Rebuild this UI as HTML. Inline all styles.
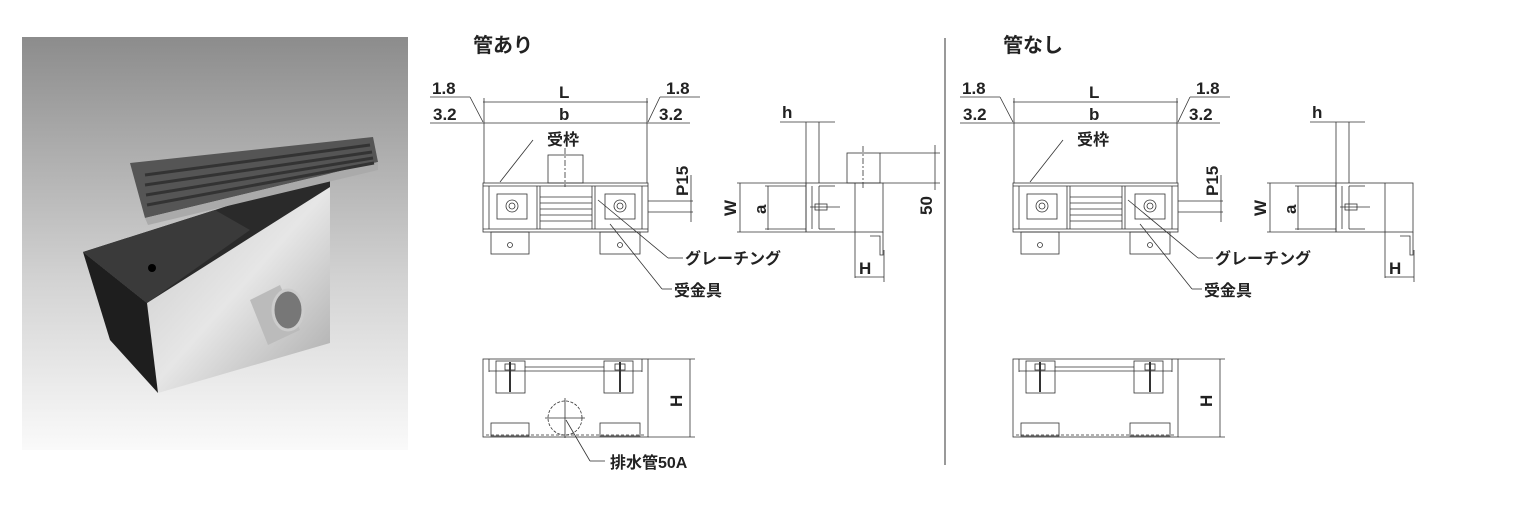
<!DOCTYPE html>
<html><head><meta charset="utf-8"><style>
html,body{margin:0;padding:0;background:#fff;}
svg{display:block}
text{font-family:"Liberation Sans","Noto Sans CJK JP",sans-serif;fill:#222;}
.t{font-size:17px;font-weight:bold}
.jp{font-size:16px;font-weight:bold}
</style></head><body>
<svg width="1516" height="520" viewBox="0 0 1516 520" xmlns="http://www.w3.org/2000/svg">
<defs>
<linearGradient id="bg" x1="0" y1="0" x2="0" y2="1">
<stop offset="0" stop-color="#8c8c8c"/><stop offset="0.6" stop-color="#d4d4d4"/><stop offset="1" stop-color="#fafafa"/></linearGradient>
<linearGradient id="sil" x1="0" y1="0" x2="1" y2="1">
<stop offset="0" stop-color="#c8c8c8"/><stop offset="0.5" stop-color="#e6e6e6"/><stop offset="1" stop-color="#a8a8a8"/></linearGradient>
<g id="draw" fill="none" stroke="#333" stroke-width="0.8">
 <!-- top dims -->
 <line x1="483" y1="102" x2="648" y2="102"/>
 <line x1="483" y1="123" x2="648" y2="123"/>
 <line x1="430" y1="97" x2="470" y2="97"/><line x1="470" y1="97" x2="483" y2="122"/>
 <line x1="430" y1="123" x2="483" y2="123"/>
 <line x1="660" y1="97" x2="700" y2="97"/><line x1="660" y1="97" x2="648" y2="122"/>
 <line x1="648" y1="123" x2="690" y2="123"/>
 <line x1="484" y1="98" x2="484" y2="183"/><line x1="647" y1="98" x2="647" y2="183"/>
 <!-- grating -->
 <rect x="483" y="183" width="165" height="49"/>
 <line x1="483" y1="186" x2="648" y2="186"/><line x1="483" y1="229" x2="648" y2="229"/>
 <line x1="489" y1="186" x2="489" y2="229"/><line x1="642" y1="186" x2="642" y2="229"/>
 <line x1="537" y1="186" x2="537" y2="229"/><line x1="540" y1="186" x2="540" y2="229"/>
 <line x1="592" y1="186" x2="592" y2="229"/><line x1="595" y1="186" x2="595" y2="229"/>
 <line x1="540" y1="197" x2="592" y2="197"/><line x1="540" y1="203" x2="592" y2="203"/><line x1="540" y1="209" x2="592" y2="209"/><line x1="540" y1="215" x2="592" y2="215"/><line x1="540" y1="221" x2="592" y2="221"/>
 <rect x="497" y="194" width="30" height="25"/><rect x="605" y="194" width="30" height="25"/>
 <circle cx="512" cy="206" r="6"/><circle cx="620" cy="206" r="6"/>
 <circle cx="512" cy="206" r="3"/><circle cx="620" cy="206" r="3"/>
 <!-- brackets -->
 <rect x="491" y="232" width="38" height="22"/><rect x="600" y="232" width="40" height="22"/>
 <circle cx="510" cy="245" r="2.5"/><circle cx="620" cy="245" r="2.5"/>
 <!-- leaders -->
 <line x1="533" y1="140" x2="500" y2="182"/>
 <line x1="598" y1="200" x2="668" y2="258"/><line x1="668" y1="258" x2="683" y2="258"/>
 <line x1="610" y1="224" x2="662" y2="289"/><line x1="662" y1="289" x2="672" y2="289"/>
 <!-- P15 -->
 <line x1="648" y1="201" x2="693" y2="201"/><line x1="648" y1="212" x2="693" y2="212"/>
 <line x1="691" y1="175" x2="691" y2="222"/>
 <!-- side view -->
 <line x1="780" y1="122" x2="835" y2="122"/>
 <line x1="806" y1="122" x2="806" y2="232"/><line x1="819" y1="122" x2="819" y2="183"/>
 <line x1="737" y1="183" x2="806" y2="183"/><line x1="737" y1="232" x2="806" y2="232"/>
 <line x1="740" y1="183" x2="740" y2="232"/>
 <line x1="768" y1="186" x2="768" y2="230"/>
 <line x1="765" y1="186" x2="806" y2="186"/><line x1="765" y1="229" x2="806" y2="229"/>
 <rect x="806" y="183" width="77" height="49"/>
 <line x1="812" y1="186" x2="812" y2="229"/><line x1="819" y1="186" x2="819" y2="229"/>
 <line x1="819" y1="186" x2="835" y2="186"/><line x1="819" y1="229" x2="835" y2="229"/>
 <line x1="855" y1="183" x2="855" y2="278"/>
 <path d="M883 232 V255 H880 V236 H870"/>
 <rect x="815" y="204" width="12" height="6"/><line x1="810" y1="207" x2="840" y2="207"/>
 <line x1="855" y1="277" x2="884" y2="277"/><line x1="884" y1="250" x2="884" y2="282"/>
</g>
</defs>
<!-- photo -->
<rect x="22" y="37" width="386" height="413" fill="url(#bg)"/>
<polygon points="147,303 330,187 330,343 158,393" fill="url(#sil)"/>
<polygon points="83,252 147,303 158,393 110,340" fill="#1e1e1e"/>
<polygon points="83,252 215,210 330,172 330,187 147,303" fill="#2a2a2a"/>
<polygon points="83,252 215,210 250,230 147,303" fill="#3a3a3a"/>
<circle cx="152" cy="268" r="4" fill="#000"/>
<polygon points="130,163 373,137 378,162 145,218" fill="#555"/>
<polygon points="145,218 378,162 378,170 148,225" fill="#aaa"/>
<g stroke="#333" stroke-width="3">
<line x1="145" y1="175" x2="370" y2="145"/><line x1="145" y1="185" x2="372" y2="152"/><line x1="146" y1="195" x2="373" y2="158"/><line x1="147" y1="205" x2="374" y2="163"/></g>
<path d="M250 300 L280 285 L300 330 L268 345 Z" fill="#bbb"/>
<ellipse cx="288" cy="310" rx="15" ry="20" fill="#777" stroke="#ccc" stroke-width="3"/>

<use href="#draw"/>
<!-- left-only elements -->
<g fill="none" stroke="#333" stroke-width="0.8">
 <rect x="548" y="155" width="35" height="28"/>
 <line x1="565" y1="148" x2="565" y2="187" stroke-dasharray="6 2 2 2"/>
 <rect x="847" y="153" width="33" height="30"/>
 <line x1="863" y1="146" x2="863" y2="190" stroke-dasharray="6 2 2 2"/>
 <line x1="880" y1="153" x2="940" y2="153"/><line x1="883" y1="183" x2="940" y2="183"/>
 <line x1="935" y1="145" x2="935" y2="190"/>
</g>
<!-- bottom view -->
<g id="bot" fill="none" stroke="#333" stroke-width="0.8">
 <rect x="483" y="359" width="165" height="78"/>
 <line x1="489" y1="359" x2="489" y2="372"/><line x1="642" y1="359" x2="642" y2="372"/>
 <rect x="496" y="361" width="29" height="32"/><rect x="604" y="361" width="29" height="32"/>
 <line x1="489" y1="371" x2="642" y2="371"/><line x1="525" y1="367" x2="604" y2="367"/>
 <line x1="510" y1="362" x2="510" y2="392" stroke-width="2"/><line x1="620" y1="362" x2="620" y2="392" stroke-width="2"/>
 <rect x="505" y="364" width="10" height="6"/><rect x="615" y="364" width="10" height="6"/>
 <line x1="486" y1="435" x2="645" y2="435" stroke-dasharray="3 2"/>
 <rect x="491" y="423" width="38" height="13"/><rect x="600" y="423" width="40" height="13"/>
 <line x1="648" y1="359" x2="695" y2="359"/><line x1="648" y1="437" x2="695" y2="437"/>
 <line x1="690" y1="359" x2="690" y2="437"/>
</g>
<use href="#draw" transform="translate(530 0)"/>
<use href="#bot" transform="translate(530 0)"/>
<g fill="none" stroke="#333" stroke-width="0.8">
 <circle cx="565" cy="418" r="17" stroke-dasharray="3 1.5"/>
 <line x1="545" y1="418" x2="585" y2="418"/><line x1="565" y1="398" x2="565" y2="438"/>
 <line x1="566" y1="420" x2="590" y2="461"/><line x1="590" y1="461" x2="605" y2="461"/>
</g>
<line x1="945" y1="38" x2="945" y2="465" stroke="#333" stroke-width="1"/>

<g id="txt">
<text x="473" y="52" style="font-size:20px;font-weight:bold">管あり</text>
<text x="432" y="94" class="t">1.8</text><text x="433" y="120" class="t">3.2</text>
<text x="559" y="98" class="t">L</text><text x="559" y="120" class="t">b</text>
<text x="666" y="94" class="t">1.8</text><text x="659" y="120" class="t">3.2</text>
<text x="547" y="145" class="jp">受枠</text>
<text x="0" y="0" class="t" transform="translate(688,196) rotate(-90)">P15</text>
<text x="685" y="264" class="jp">グレーチング</text>
<text x="674" y="296" class="jp">受金具</text>
<text x="782" y="118" class="t">h</text>
<text x="0" y="0" class="t" transform="translate(736,216) rotate(-90)">W</text>
<text x="0" y="0" class="t" transform="translate(766,214) rotate(-90)">a</text>
<text x="859" y="274" class="t">H</text>
<text x="0" y="0" class="t" transform="translate(682,407) rotate(-90)">H</text>
</g>
<use href="#txt" transform="translate(530 0)"/>
<rect x="1000" y="30" width="80" height="28" fill="#fff"/>
<text x="1003" y="52" style="font-size:20px;font-weight:bold">管なし</text>
<text x="0" y="0" class="t" transform="translate(932,215) rotate(-90)">50</text>
<text x="610" y="468" class="jp">排水管50A</text>
</svg>
</body></html>
